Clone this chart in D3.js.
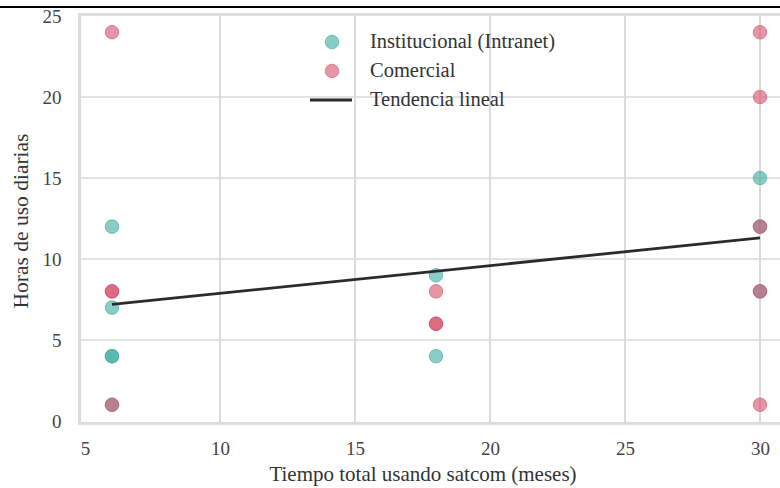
<!DOCTYPE html>
<html><head><meta charset="utf-8">
<script src="https://cdn.jsdelivr.net/npm/d3@7"></script>
<style>body{margin:0;background:#fff}svg{display:block}</style>
</head><body>
<svg id="c" width="780" height="488"></svg>
<script>
const xTicks = [5, 10, 15, 20, 25, 30];
const yTicks = [0, 5, 10, 15, 20, 25];
const instX = [6, 6, 6, 6, 6, 18, 18, 30, 30, 30];
const instY = [12, 7, 4, 4, 1, 9, 4, 15, 12, 8];
const comX = [6, 6, 6, 6, 18, 18, 18, 30, 30, 30, 30, 30];
const comY = [24, 8, 8, 1, 8, 6, 6, 24, 20, 12, 8, 1];
const trendX = [6, 30];
const trendY = [7.2, 11.3];
const legendLabels = ["Institucional (Intranet)", "Comercial", "Tendencia lineal"];

const svg = d3.select("#c");
const font = "'Liberation Serif', 'DejaVu Serif', serif";
const x = d3.scaleLinear().domain([4.8, 31.2]).range([79.6, 792.4]);
const y = d3.scaleLinear().domain([-0.15, 25.1]).range([423.4, 14.4]);
const teal = "#3aaa9e", red = "#d4506a";

svg.append("line").attr("x1", 0).attr("x2", 780).attr("y1", 7).attr("y2", 7)
  .attr("stroke", "#000").attr("stroke-width", 2);

// grid
svg.append("g").selectAll("line").data(xTicks.filter(d => d > 5)).join("line")
  .attr("x1", d => x(d)).attr("x2", d => x(d)).attr("y1", y(25.1)).attr("y2", y(-0.15))
  .attr("stroke", "#cfcfcf").attr("stroke-width", 1.5);
svg.append("g").selectAll("line").data(yTicks.filter(d => d > 0 && d < 25)).join("line")
  .attr("x1", x(4.8)).attr("x2", 780).attr("y1", d => y(d)).attr("y2", d => y(d))
  .attr("stroke", "#dadada").attr("stroke-width", 1.5);

// frame
svg.append("rect").attr("x", x(4.8)).attr("y", y(25.1)).attr("width", x(31.2) - x(4.8))
  .attr("height", y(-0.15) - y(25.1)).attr("fill", "none").attr("stroke", "#dcdcdc").attr("stroke-width", 3);

// axes ticks via d3 axis
const xa = svg.append("g").attr("transform", `translate(0,${y(-0.15)})`)
  .call(d3.axisBottom(x).tickValues(xTicks).tickSize(0).tickPadding(18));
const ya = svg.append("g").attr("transform", `translate(${x(4.8)},0)`)
  .call(d3.axisLeft(y).tickValues(yTicks).tickSize(0).tickPadding(18));
[xa, ya].forEach(a => {
  a.select(".domain").remove();
  a.selectAll("text").attr("font-family", font).attr("font-size", 19).attr("fill", "#444");
});

// points
svg.append("g").selectAll("circle").data(instX.map((d, i) => [d, instY[i]])).join("circle")
  .attr("cx", d => x(d[0])).attr("cy", d => y(d[1])).attr("r", 6.8)
  .attr("fill", teal).attr("fill-opacity", 0.6).attr("stroke", teal).attr("stroke-opacity", 0.6);
svg.append("g").selectAll("circle").data(comX.map((d, i) => [d, comY[i]])).join("circle")
  .attr("cx", d => x(d[0])).attr("cy", d => y(d[1])).attr("r", 6.8)
  .attr("fill", red).attr("fill-opacity", 0.6).attr("stroke", red).attr("stroke-opacity", 0.6);

// trend
svg.append("path").datum(trendX.map((d, i) => [d, trendY[i]]))
  .attr("d", d3.line().x(d => x(d[0])).y(d => y(d[1])))
  .attr("stroke", "#2b2b2b").attr("stroke-width", 2.8).attr("fill", "none");

// labels
svg.append("text").attr("x", 423).attr("y", 481).attr("text-anchor", "middle")
  .attr("font-family", font).attr("font-size", 21).attr("fill", "#333")
  .text("Tiempo total usando satcom (meses)");
svg.append("text").attr("transform", "translate(28,221) rotate(-90)").attr("text-anchor", "middle")
  .attr("font-family", font).attr("font-size", 21.5).attr("fill", "#333")
  .text("Horas de uso diarias");

// legend
const lg = svg.append("g");
const rows = [42, 71, 100];
lg.append("circle").attr("cx", 332).attr("cy", rows[0]).attr("r", 6.8)
  .attr("fill", teal).attr("fill-opacity", 0.6).attr("stroke", teal).attr("stroke-opacity", 0.6);
lg.append("circle").attr("cx", 332).attr("cy", rows[1]).attr("r", 6.8)
  .attr("fill", red).attr("fill-opacity", 0.6).attr("stroke", red).attr("stroke-opacity", 0.6);
lg.append("line").attr("x1", 310).attr("x2", 352).attr("y1", rows[2]).attr("y2", rows[2])
  .attr("stroke", "#2b2b2b").attr("stroke-width", 2.8);
lg.selectAll("text").data(legendLabels).join("text")
  .attr("x", 370).attr("y", (d, i) => rows[i] + 6)
  .attr("font-family", font).attr("font-size", 20.5).attr("fill", "#333").text(d => d);
</script>
</body></html>
